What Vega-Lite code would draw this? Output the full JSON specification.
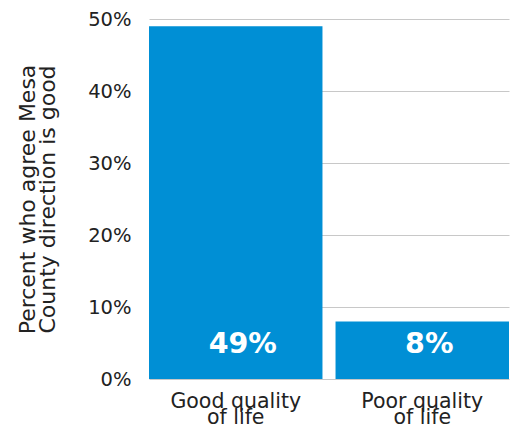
{
  "$schema": "https://vega.github.io/schema/vega-lite/v6.json",
  "autosize": "none",
  "width": 360,
  "height": 360,
  "padding": {"left": 149, "top": 19, "right": 10, "bottom": 48},
  "background": "white",
  "config": {
    "view": {"stroke": null},
    "font": "DejaVu Sans"
  },
  "data": {
    "values": [
      {"category": "Good quality of life", "percent": 49, "label": "49%"},
      {"category": "Poor quality of life", "percent": 8, "label": "8%"}
    ]
  },
  "encoding": {
    "x": {
      "field": "category",
      "type": "nominal",
      "sort": null,
      "scale": {"paddingInner": 0.07, "paddingOuter": 0},
      "axis": {
        "title": null,
        "labelAngle": 0,
        "labelExpr": "datum.value == 'Good quality of life' ? ['Good quality', 'of life'] : ['Poor quality', 'of life']",
        "labelFont": "DejaVu Sans",
        "labelFontSize": 20.5,
        "labelColor": "#222222",
        "labelLineHeight": 16,
        "labelPadding": 12,
        "domain": false,
        "ticks": false,
        "encode": {
          "labels": {
            "update": {
              "dx": {"signal": "datum.value == 'Good quality of life' ? -6 : 7"},
              "dy": {"signal": "datum.value == 'Good quality of life' ? 0 : 3"}
            }
          }
        }
      }
    }
  },
  "layer": [
    {
      "mark": {"type": "bar", "color": "#008fd5"},
      "encoding": {
        "y": {
          "field": "percent",
          "type": "quantitative",
          "scale": {"domain": [0, 50], "nice": false},
          "axis": {
            "title": ["Percent who agree Mesa", "County direction is good"],
            "titleFont": "DejaVu Sans",
            "titleFontSize": 22,
            "titleFontWeight": "normal",
            "titleColor": "#222222",
            "titleLineHeight": 20,
            "titlePadding": 28,
            "values": [0, 10, 20, 30, 40, 50],
            "labelExpr": "datum.value + '%'",
            "labelFont": "DejaVu Sans",
            "labelFontSize": 19.5,
            "labelColor": "#222222",
            "labelPadding": 18,
            "domain": false,
            "ticks": false,
            "grid": true,
            "gridColor": "#c8c8c8",
            "gridWidth": 1
          }
        }
      }
    },
    {
      "mark": {"type": "text", "color": "white", "fontWeight": "bold", "fontSize": 28.5, "font": "DejaVu Sans", "baseline": "middle", "dx": 7},
      "encoding": {
        "y": {"datum": 4.8, "type": "quantitative"},
        "text": {"field": "label"}
      }
    }
  ]
}
